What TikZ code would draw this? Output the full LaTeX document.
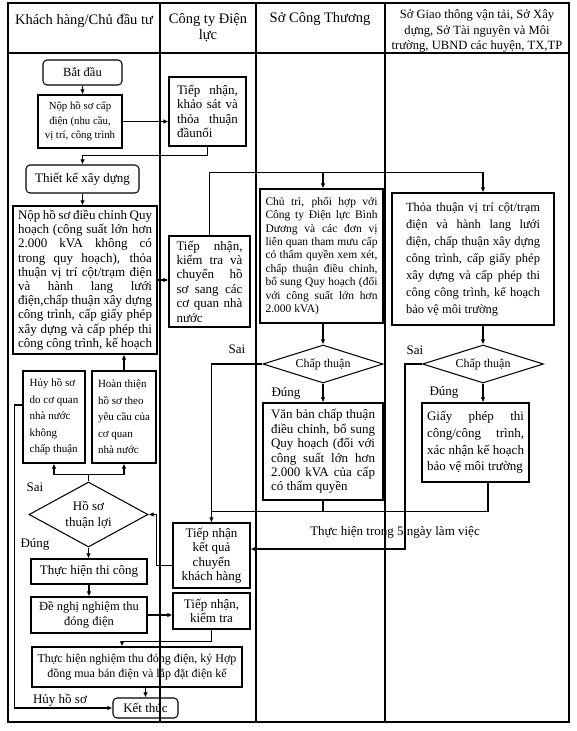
\documentclass[tikz,border=0pt]{standalone}
\usepackage{fontspec}
\setmainfont{Liberation Serif}
\usetikzlibrary{arrows.meta,calc,shapes.geometric}
\newcommand\fsz[2]{\fontsize{#1}{#2}\selectfont}
\begin{document}
\begin{tikzpicture}[x=1pt,y=-1pt,line width=1.05pt,
 box/.style={draw, rectangle, inner sep=0pt, align=justify},
 cbox/.style={draw, rectangle, inner sep=0pt, align=center},
 lbox/.style={draw, rectangle, inner sep=0pt, align=left},
 rbox/.style={draw, rectangle, rounded corners=4pt, inner sep=0pt, align=center},
 dia/.style={draw, diamond, inner sep=0pt, aspect=3, align=center},
 arr/.style={-{Latex[length=5pt,width=4.5pt]}},
 lbl/.style={inner sep=0pt, font=\fsz{13}{15}},
 hd/.style={inner sep=0pt, align=center, font=\fsz{14.5}{16}},
]
\useasboundingbox (0,0) rectangle (576,731);
% table frame
\draw (8,3) rectangle (569,722);
\draw (8,53) -- (569,53);
\draw (160,3) -- (160,722);
\draw (256,3) -- (256,722);
\draw (385,3) -- (385,722);
% headers
\node[hd] (h1) at (84,21) {Khách hàng/Chủ đầu tư};
\node[hd] (h2) at (208,28) {Công ty Điện\\lực};
\node[hd] (h3) at (320,19) {Sở Công Thương};
\node[hd, font=\fsz{12.6}{15.5}] (h4) at (477,31) {Sở Giao thông vận tải, Sở Xây\\dựng, Sở Tài nguyên và Môi\\trường, UBND các huyện, TX,TP};
% nodes
\node[rbox, minimum width=79pt, minimum height=25pt, font=\fsz{12.5}{14}] (start) at (82.5,72.5) {Bắt đầu};
\node[cbox, minimum width=84pt, minimum height=53pt, font=\fsz{10.8}{14.5}] (nop1) at (80,121.5) {Nộp hồ sơ cấp\\điện (nhu cầu,\\vị trí, công trình};
\node[box, minimum width=77pt, minimum height=69pt, text width=61pt, font=\fsz{13}{14.4}] (tn1) at (207.5,111.5) {Tiếp nhận,\linebreak khảo sát và\linebreak thỏa thuận\linebreak đầunối};
\node[rbox, minimum width=113pt, minimum height=28pt, font=\fsz{13}{15}] (tk) at (82.5,179) {Thiết kế xây dựng};
\node[box, minimum width=144pt, minimum height=148pt, text width=134pt, font=\fsz{13}{14.2}] (big) at (85,280) {Nộp hồ sơ điều chỉnh Quy\linebreak hoạch (công suất lớn hơn\linebreak 2.000 kVA không có\linebreak trong quy hoạch), thỏa\linebreak thuận vị trí cột/trạm điện\linebreak và hành lang lưới\linebreak điện,chấp thuận xây dựng\linebreak công trình, cấp giấy phép\linebreak xây dựng và cấp phép thi\linebreak công công trình, kế hoạch};
\node[box, minimum width=81pt, minimum height=91pt, text width=66pt, font=\fsz{13}{14.4}] (tn2) at (209.5,281.5) {Tiếp nhận,\linebreak kiểm tra và\linebreak chuyển hồ\linebreak sơ sang các\linebreak cơ quan nhà\linebreak nước};
\node[box, minimum width=123pt, minimum height=134pt, text width=112pt, font=\fsz{11.5}{13.4}] (chutri) at (321.5,256) {Chủ trì, phối hợp với\linebreak Công ty Điện lực Bình\linebreak Dương và các đơn vị\linebreak liên quan tham mưu cấp\linebreak có thẩm quyền xem xét,\linebreak chấp thuận điều chỉnh,\linebreak bổ sung Quy hoạch (đối\linebreak với công suất lớn hơn\linebreak 2.000 kVA)};
\node[box, minimum width=162pt, minimum height=132pt, text width=134pt, font=\fsz{12.5}{17}] (thoa) at (473,259) {Thỏa thuận vị trí cột/trạm\linebreak điện và hành lang lưới\linebreak điện, chấp thuận xây dựng\linebreak công trình, cấp giấy phép\linebreak xây dựng và cấp phép thi\linebreak công công trình, kế hoạch\linebreak bảo vệ môi trường};
\node[dia, minimum width=120pt, minimum height=38pt, font=\fsz{12}{14}] (d1) at (323,364) {Chấp thuận};
\node[box, minimum width=120pt, minimum height=97pt, text width=104pt, font=\fsz{13}{14.4}] (vanban) at (323,451.5) {Văn bản chấp thuận\linebreak điều chỉnh, bổ sung\linebreak Quy hoạch (đối với\linebreak công suất lớn hơn\linebreak 2.000 kVA của cấp\linebreak có thẩm quyền};
\node[dia, minimum width=121pt, minimum height=38pt, font=\fsz{12}{14}] (d2) at (483,364) {Chấp thuận};
\node[box, minimum width=107pt, minimum height=79pt, text width=97pt, font=\fsz{13}{16.7}] (giay) at (475.5,442.5) {Giấy phép thi\linebreak công/công trình,\linebreak xác nhận kế hoạch\linebreak bảo vệ môi trường};
\node[lbox, minimum width=62pt, minimum height=92pt, font=\fsz{11}{16.5}] (huy) at (54,417) {Hủy hồ sơ\\do cơ quan\\nhà nước\\không\\chấp thuận};
\node[lbox, minimum width=64pt, minimum height=92pt, font=\fsz{11}{16.5}] (hoan) at (124,417) {Hoàn thiện\\hồ sơ theo\\yêu cầu của\\cơ quan\\nhà nước};
\node[dia, aspect=2, minimum width=119pt, minimum height=65pt, font=\fsz{13}{16}] (d3) at (88.5,514.5) {Hồ sơ\\thuận lợi};
\node[cbox, minimum width=77pt, minimum height=65pt, font=\fsz{13}{14.5}] (tnkq) at (211.5,555.5) {Tiếp nhận\\kết quả\\chuyển\\khách hàng};
\node[cbox, minimum width=116pt, minimum height=25pt, font=\fsz{13}{15}] (thicong) at (89,571.5) {Thực hiện thi công};
\node[cbox, minimum width=116pt, minimum height=36pt, font=\fsz{12.5}{14.5}] (denghi) at (89,615) {Đề nghị nghiệm thu\\đóng điện};
\node[cbox, minimum width=77pt, minimum height=36pt, font=\fsz{13}{14.5}] (tnkt) at (211.5,611) {Tiếp nhận,\\kiểm tra};
\node[cbox, minimum width=210pt, minimum height=40pt, font=\fsz{12}{14.5}] (ntdd) at (137,667) {Thực hiện nghiệm thu đóng điện, ký Hợp\\đồng mua bán điện và lắp đặt điện kế};
\node[rbox, minimum width=65pt, minimum height=20pt, font=\fsz{13}{15}] (ket) at (145.5,708) {Kết thúc};
% labels
\node[lbl] (sai1) at (237,349) {Sai};
\node[lbl] (dung1) at (286,393) {Đúng};
\node[lbl] (sai2) at (415,350) {Sai};
\node[lbl] (dung2) at (444,392) {Đúng};
\node[lbl] (sai3) at (35,487) {Sai};
\node[lbl] (dung3) at (35,544) {Đúng};
\node[lbl] (huylbl) at (60,700) {Hủy hồ sơ};
\node[lbl] (note) at (395,532) {Thực hiện trong 5 ngày làm việc};
% connectors
\draw[arr] (start.south) -- (start.south |- nop1.north);
\draw[arr] (nop1.east) -- (nop1.east -| tn1.west);
\draw[arr] (tn1.south) -- ++(0,9) -| (tk.north);
\draw[arr] (tk.south) -- (tk.south |- big.north);
\draw[arr] (big.east) -- (big.east -| tn2.west);
\draw[arr] (tn2.north) -- ++(0,-63) coordinate (bus) -| ($(thoa.north)+(10,0)$);
\draw[arr] (bus -| d1.north) -- (chutri.north -| d1.north);
\draw[arr] (chutri.south -| d1.north) -- (d1.north);
\draw[arr] (thoa.south -| d2.north) -- (d2.north);
\draw[arr] (d1.south) -- (d1.south |- vanban.north);
\draw[arr] (d2.south) -- (d2.south |- giay.north);
\draw[arr] (d1.west) -| (tnkq.north);
\draw ($(giay.south)+(12.5,0)$) -- ++(0,29) -| (vanban.south);
\draw (vanban.south) -- ++(0,11) -| (tnkq.north);
\draw[arr] (d2.west) -- ++(-17,0) |- ($(tnkq.east)+(0,-6.5)$);
\draw (d3.north) -- ++(0,-7) coordinate (b3);
\draw[arr] (b3) -| (huy.south);
\draw[arr] (b3) -| (hoan.south);
\draw[arr] (hoan.north) -- (hoan.north |- big.south);
\draw[arr] ($(huy.west)+(0,-12)$) -- ++(-8,0) |- (ket.west);
\draw[arr] ($(tnkq.west)+(0,10)$) -- ++(-16,0) |- (d3.east);
\draw[arr] (d3.south) -- (d3.south |- thicong.north);
\draw[arr] (thicong.south) -- (denghi.north);
\draw[arr] (denghi.east) -- (denghi.east -| tnkt.west);
\draw[arr] (tnkt.south) -- ++(0,12) -| ($(ntdd.north)+(-15,0)$);
\draw[arr] (ket.north |- ntdd.south) -- (ket.north);
\end{tikzpicture}
\end{document}
